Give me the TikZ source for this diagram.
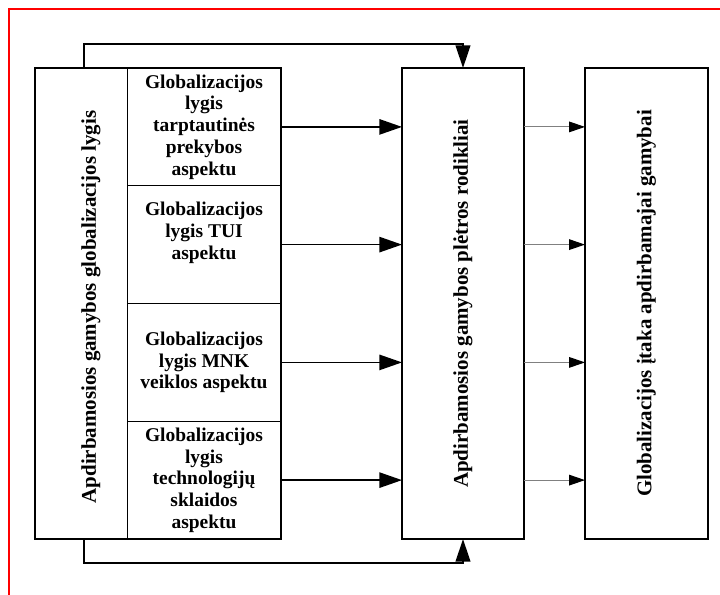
\documentclass[tikz,border=0pt]{standalone}
\usepackage{fontspec}
\setmainfont{Liberation Serif}
\usetikzlibrary{arrows.meta}
\definecolor{linegray}{RGB}{128,128,128}
\begin{document}
\begin{tikzpicture}[x=0.75pt,y=-0.75pt,
  box/.style={draw,line width=1.7pt,inner sep=0pt,outer sep=0pt,minimum height=353.25pt},
  cell/.style={draw,line width=0.75pt,inner sep=0pt,outer sep=0pt,minimum width=115.5pt,minimum height=88.31pt,
    align=center,font=\bfseries\fontsize{14.6pt}{16.3pt}\selectfont},
  leftcol/.style={draw,line width=0.75pt,inner sep=0pt,outer sep=0pt,minimum width=69pt,minimum height=353.25pt},
  vtext/.style={rotate=90,font=\bfseries\fontsize{15.7pt}{18pt}\selectfont,inner sep=0pt},
  mainarr/.style={line width=1.3pt,-{Triangle[length=17pt,width=11.5pt]}},
  grayarr/.style={draw=linegray,line width=0.8pt,-{Triangle[length=12pt,width=8pt,black]}},
  fbarr/.style={line width=1.5pt,-{Triangle[length=17pt,width=11pt]}},
]
\useasboundingbox (0,0) rectangle (720,594);
\fill[white] (0,0) rectangle (720,594);
\draw[red,line width=1.5pt] (9,600) -- (9,9) -- (725,9);

% left block
\node[leftcol] (Lcol) at (81,303.5) {};
\node[cell] (S1) at (204,126.9) {Globalizacijos\\lygis\\tarptautinės\\prekybos\\aspektu};
\node[cell] (S2) at (204,244.6) {};
\node[cell] (S3) at (204,362.4) {Globalizacijos\\lygis MNK\\veiklos aspektu};
\node[cell] (S4) at (204,480.1) {Globalizacijos\\lygis\\technologijų\\sklaidos\\aspektu};
\node[align=center,inner sep=0pt,font=\bfseries\fontsize{14.6pt}{16.3pt}\selectfont] (T2) at (204,233) {Globalizacijos\\lygis TUI\\aspektu};
\draw[line width=1.7pt] (Lcol.north west) rectangle (S4.south east);
\node[vtext] (Ltext) at (91,307) {Apdirbamosios gamybos globalizacijos lygis};

% middle and right
\node[box,minimum width=91.5pt] (M) at (463,303.5) {};
\node[vtext] (Mtext) at (M.center) {Apdirbamosios gamybos plėtros rodikliai};
\node[box,minimum width=92.25pt] (R) at (646.5,303.5) {};
\node[vtext] (Rtext) at (R.center) {Globalizacijos įtaka apdirbamajai gamybai};

% arrows
\foreach \i in {1,...,4}{
  \draw[mainarr] (S\i.east) -- (S\i.east -| M.west);
  \draw[grayarr] (S\i.east -| M.east) -- (S\i.east -| R.west);
}
\draw[fbarr] ([xshift=2.25pt]Lcol.north) -- ++(0,-24) -| (M.north);
\draw[fbarr] ([xshift=2.25pt]Lcol.south) -- ++(0,24) -| (M.south);
\end{tikzpicture}
\end{document}
